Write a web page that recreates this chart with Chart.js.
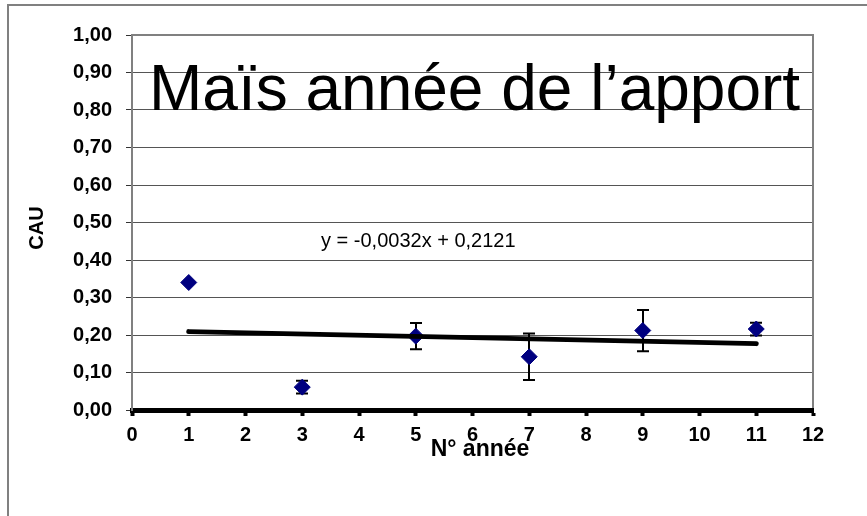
<!DOCTYPE html>
<html>
<head>
<meta charset="utf-8">
<script src="https://cdn.jsdelivr.net/npm/chart.js@4.4.1/dist/chart.umd.min.js"></script>
<style>
  body { margin: 0; background: #fff; }
  #wrap { width: 867px; height: 516px; }
</style>
</head>
<body>
<div id="wrap"><canvas id="cauChart" width="867" height="516"></canvas></div>
<script>
// données
const years = [1, 3, 5, 7, 9, 11];
const cau = [0.34, 0.061, 0.197, 0.142, 0.212, 0.216];
const cauErr = [0, 0.017, 0.035, 0.062, 0.055, 0.017];
const trendYears = [1, 11];
const trendCau = [0.209, 0.177];
const equation = 'y = -0,0032x + 0,2121';
const chartTitle = 'Maïs année de l\u2019apport';
const xTitle = 'N° année';
const yTitle = 'CAU';

const FONT = '"Liberation Sans", Arial, sans-serif';

// barres d'erreur + textes + cadre
const extras = {
    id: 'extras',
    beforeDatasetsDraw(chart) {
        const ctx = chart.ctx;
        const xs = chart.scales.x, ys = chart.scales.y;
        ctx.save();
        ctx.strokeStyle = '#000';
        ctx.lineWidth = 2;
        years.forEach((yr, i) => {
            if (!cauErr[i]) return;
            const px = Math.round(xs.getPixelForValue(yr));
            const top = ys.getPixelForValue(cau[i] + cauErr[i]);
            const bot = ys.getPixelForValue(cau[i] - cauErr[i]);
            ctx.beginPath();
            ctx.moveTo(px, top); ctx.lineTo(px, bot);
            ctx.moveTo(px - 6, top); ctx.lineTo(px + 6, top);
            ctx.moveTo(px - 6, bot); ctx.lineTo(px + 6, bot);
            ctx.stroke();
        });
        ctx.restore();
    },
    afterDraw(chart) {
        const ctx = chart.ctx;
        const a = chart.chartArea;
        ctx.save();
        // bord gris du cadre de tracé
        ctx.strokeStyle = '#808080';
        ctx.lineWidth = 2;
        ctx.beginPath();
        ctx.moveTo(a.left, a.top);
        ctx.lineTo(a.right, a.top);
        ctx.lineTo(a.right, a.bottom - 2);
        ctx.stroke();
        // cadre extérieur
        ctx.beginPath();
        ctx.moveTo(8, 516);
        ctx.lineTo(8, 5);
        ctx.lineTo(867, 5);
        ctx.stroke();

        ctx.fillStyle = '#000';
        ctx.textBaseline = 'alphabetic';
        ctx.textAlign = 'left';
        ctx.font = '64px ' + FONT;
        ctx.fillText(chartTitle, 149, 110);

        ctx.font = '20px ' + FONT;
        ctx.fillText(equation, 321, 247);

        ctx.font = 'bold 23px ' + FONT;
        ctx.textAlign = 'center';
        ctx.fillText(xTitle, 480, 456);

        ctx.translate(43, 228);
        ctx.rotate(-Math.PI / 2);
        ctx.font = 'bold 20px ' + FONT;
        ctx.fillText(yTitle, 0, 0);
        ctx.restore();
    }
};

const ctx = document.getElementById('cauChart').getContext('2d');
const myChart = new Chart(ctx, {
    type: 'scatter',
    data: {
        datasets: [
            {
                type: 'line',
                data: trendYears.map((x, i) => ({ x: x, y: trendCau[i] })),
                borderColor: '#000',
                borderWidth: 5,
                borderCapStyle: 'round',
                pointRadius: 0,
                order: 0
            },
            {
                data: years.map((x, i) => ({ x: x, y: cau[i] })),
                pointStyle: 'rectRot',
                pointRadius: 8,
                backgroundColor: '#000080',
                borderColor: '#000080',
                order: 1
            }
        ]
    },
    options: {
        responsive: false,
        animation: false,
        layout: { padding: { left: 0, top: 35, right: 54, bottom: 0 } },
        plugins: { legend: { display: false }, tooltip: { enabled: false } },
        scales: {
            x: {
                type: 'linear',
                min: 0, max: 12,
                afterFit: s => { s.height = 106; },
                ticks: {
                    stepSize: 1,
                    padding: 7,
                    color: '#000',
                    font: { family: FONT, size: 20, weight: 'bold' }
                },
                grid: {
                    drawOnChartArea: false,
                    drawTicks: true,
                    tickLength: 6,
                    tickWidth: 4,
                    tickColor: '#000'
                },
                border: { color: '#000', width: 5 }
            },
            y: {
                min: 0, max: 1,
                afterFit: s => { s.width = 132; },
                ticks: {
                    stepSize: 0.1,
                    padding: 14,
                    color: '#000',
                    font: { family: FONT, size: 20, weight: 'bold' },
                    callback: v => v.toFixed(2).replace('.', ',')
                },
                grid: {
                    color: '#555',
                    lineWidth: 1,
                    tickLength: 6,
                    tickColor: '#333'
                },
                border: { color: '#808080', width: 2 }
            }
        }
    },
    plugins: [extras]
});
</script>
</body>
</html>
